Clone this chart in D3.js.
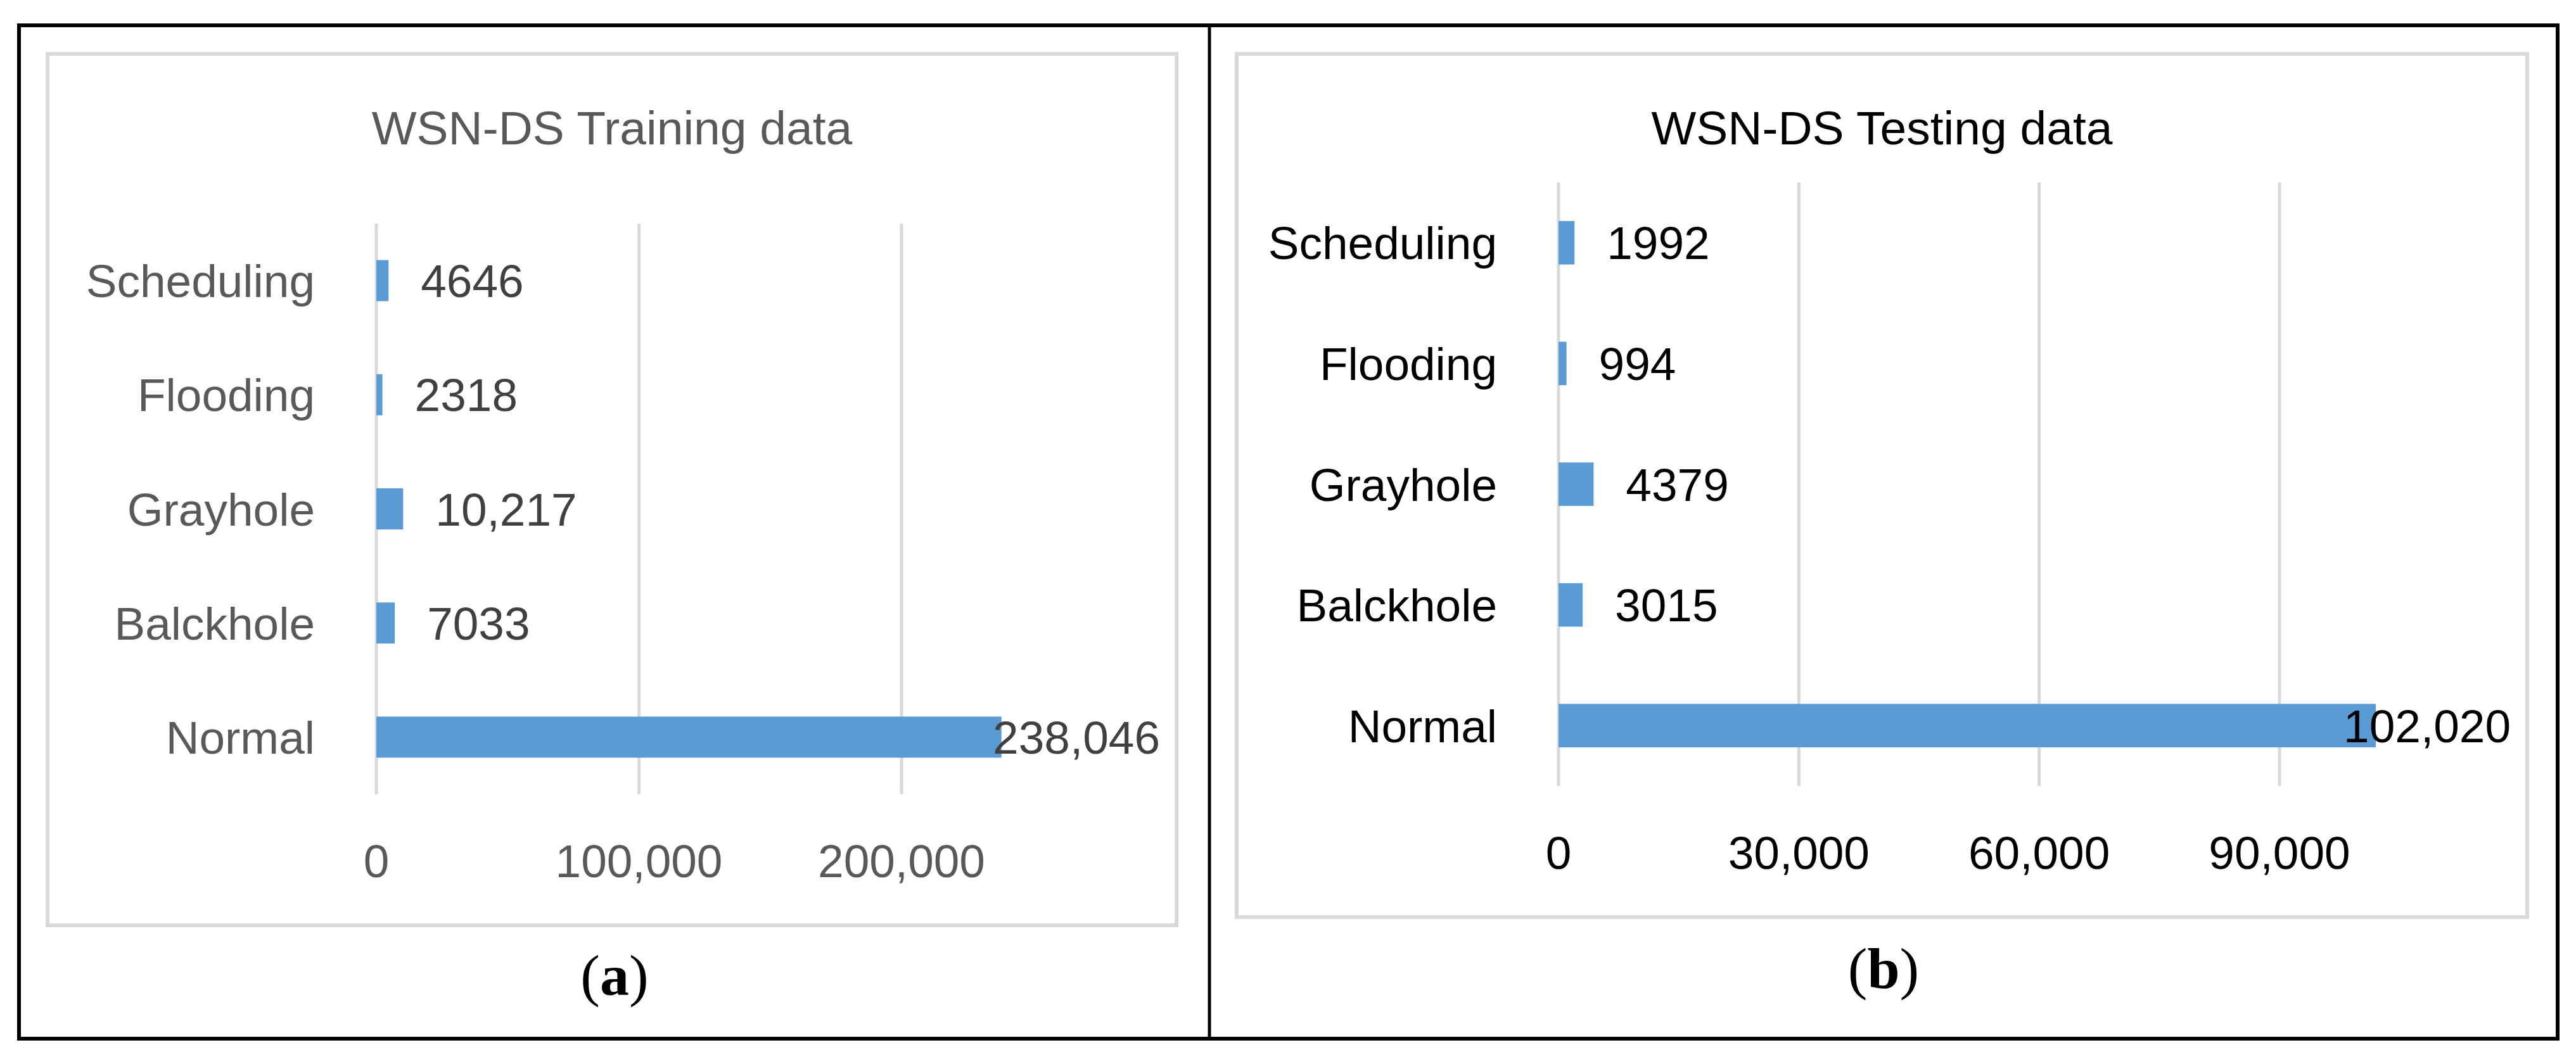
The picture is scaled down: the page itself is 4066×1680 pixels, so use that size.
<!DOCTYPE html>
<html>
<head>
<meta charset="utf-8">
<script src="https://cdn.jsdelivr.net/npm/d3@7"></script>
<style>
    body { margin: 0; background: #fff; }
    text { font-family: 'Liberation Sans', Arial, sans-serif; }
    .caption { font-family: 'Liberation Serif', 'Times New Roman', serif; }
</style>
</head>
<body>
<svg class="chart"></svg>
<script>
const width = 4066
const height = 1680

// top to bottom, as in the figure
const categories = ['Scheduling', 'Flooding', 'Grayhole', 'Balckhole', 'Normal']
const trainingValues = [4646, 2318, 10217, 7033, 238046]
const testingValues = [1992, 994, 4379, 3015, 102020]
const trainingTicks = [0, 100000, 200000]
const testingTicks = [0, 30000, 60000, 90000]

const panels = [
    {
        title: 'WSN-DS Training data', caption: 'a', values: trainingValues, ticks: trainingTicks,
        box: [75, 85, 1857, 1461], xDomain: [0, 200000], xRange: [594, 1423], yRange: [353, 1254],
        captionX: 970, captionY: 1571, textColor: '#595959', labelColor: '#404040'
    },
    {
        title: 'WSN-DS Testing data', caption: 'b', values: testingValues, ticks: testingTicks,
        box: [1952, 85, 3989, 1448], xDomain: [0, 90000], xRange: [2460, 3598], yRange: [288, 1241],
        captionX: 2973, captionY: 1560, textColor: '#000', labelColor: '#000'
    }
]

const fmt = v => v >= 10000 ? d3.format(',')(v) : String(v)

const drawPanel = (svg, p) => {
    const [bx0, by0, bx1, by1] = p.box

    const x = d3.scaleLinear().domain(p.xDomain).range(p.xRange)
    const y = d3.scaleBand().domain(categories).range(p.yRange)
        .paddingInner(0.64).paddingOuter(0.32)

    // chart area frame
    svg.append('rect')
        .attr('x', bx0).attr('y', by0)
        .attr('width', bx1 - bx0).attr('height', by1 - by0)
        .attr('fill', '#fff')
        .attr('stroke', '#d9d9d9')
        .attr('stroke-width', 6)

    svg.append('text')
        .text(p.title)
        .attr('x', (bx0 + bx1) / 2)
        .attr('y', 228)
        .attr('text-anchor', 'middle')
        .attr('font-size', 75)
        .attr('fill', p.textColor)

    const [gy0, gy1] = p.yRange

    // gridlines + tick labels
    const tick = svg.append('g').selectAll('g')
            .data(p.ticks)
        .enter().append('g')

    tick.append('line')
        .attr('stroke', '#d9d9d9')
        .attr('stroke-width', 5)
        .attr('x1', d => x(d)).attr('x2', d => x(d))
        .attr('y1', gy0).attr('y2', gy1)

    tick.append('text')
        .text(d => d3.format(',')(d))
        .attr('x', d => x(d))
        .attr('y', gy1 + 131)
        .attr('text-anchor', 'middle')
        .attr('font-size', 73)
        .attr('fill', p.textColor)

    // category labels
    svg.append('g').selectAll('text')
            .data(categories)
        .enter().append('text')
        .text(d => d)
        .attr('x', x(0) - 97)
        .attr('y', d => y(d) + y.bandwidth() / 2 + 26)
        .attr('text-anchor', 'end')
        .attr('font-size', 73)
        .attr('fill', p.textColor)

    const rows = categories.map((c, i) => ({ c, v: p.values[i] }))

    svg.append('g').selectAll('rect')
            .data(rows)
        .enter().append('rect')
        .attr('x', x(0))
        .attr('y', d => y(d.c))
        .attr('width', d => x(d.v) - x(0))
        .attr('height', y.bandwidth())
        .attr('fill', '#5b9bd5')

    // value labels, pulled back inside the frame when they run off it
    svg.append('g').selectAll('text')
            .data(rows)
        .enter().append('text')
        .text(d => fmt(d.v))
        .attr('y', d => y(d.c) + y.bandwidth() / 2 + 26)
        .attr('font-size', 73)
        .attr('fill', p.labelColor)
        .attr('x', function (d) {
            const w = this.getComputedTextLength()
            return Math.min(x(d.v) + 51, bx1 - 26 - w)
        })

    const cap = svg.append('text')
        .attr('class', 'caption')
        .attr('x', p.captionX)
        .attr('y', p.captionY)
        .attr('text-anchor', 'middle')
        .attr('font-size', 92)
        .attr('fill', '#000')
    cap.append('tspan').text('(')
    cap.append('tspan').text(p.caption).attr('font-weight', 'bold')
    cap.append('tspan').text(')')
}

const svg = d3.select('.chart')
    .attr('width', width)
    .attr('height', height)

svg.append('rect').attr('width', width).attr('height', height).attr('fill', '#fff')

panels.forEach(p => drawPanel(svg, p))

// outer figure frame and divider
svg.append('rect')
    .attr('x', 30).attr('y', 40)
    .attr('width', 4037 - 30).attr('height', 1640 - 40)
    .attr('fill', 'none')
    .attr('stroke', '#000')
    .attr('stroke-width', 6)

svg.append('line')
    .attr('x1', 1909).attr('x2', 1909)
    .attr('y1', 40).attr('y2', 1640)
    .attr('stroke', '#000')
    .attr('stroke-width', 5)
</script>
</body>
</html>
